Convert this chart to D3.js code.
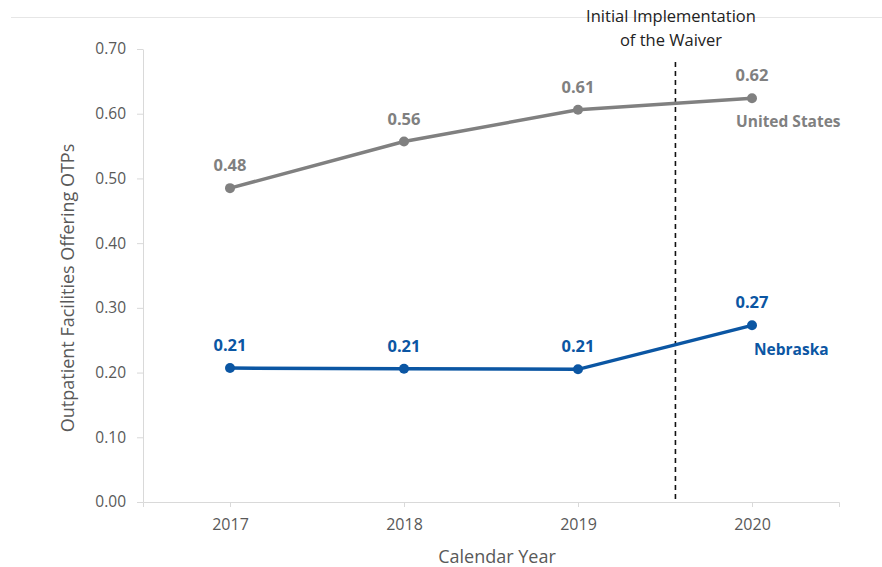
<!DOCTYPE html>
<html>
<head>
<meta charset="utf-8">
<script src="https://cdn.jsdelivr.net/npm/d3@7"></script>
<style>
  body { margin: 0; background: #fff; }
  svg text { font-family: "Open Sans", "Liberation Sans", sans-serif; }
</style>
</head>
<body>
<div class="chartContainer"></div>
<script>
const years = [2017, 2018, 2019, 2020];
const usValues = [0.485, 0.557, 0.606, 0.624];
const neValues = [0.207, 0.206, 0.205, 0.273];
const usLabels = ["0.48", "0.56", "0.61", "0.62"];
const neLabels = ["0.21", "0.21", "0.21", "0.27"];
const yTicks = [0, 0.1, 0.2, 0.3, 0.4, 0.5, 0.6, 0.7];
const waiverYear = 2019.56;

const w = 882;
const h = 567;

const svg = d3
  .select(".chartContainer")
  .append("svg")
  .attr("width", w)
  .attr("height", h);

const xScale = d3.scaleLinear().domain([2016.5, 2020.5]).range([143, 839]);
const yScale = d3.scaleLinear().domain([0, 0.7]).range([502, 49]);

// faint rule at the top of the page
svg
  .append("line")
  .attr("x1", 11)
  .attr("x2", w)
  .attr("y1", 17.5)
  .attr("y2", 17.5)
  .attr("stroke", "#e6e6e6")
  .attr("stroke-width", 1);

// y axis
const yAxis = svg
  .append("g")
  .attr("transform", "translate(143,0)")
  .call(
    d3.axisLeft(yScale)
      .tickValues(yTicks)
      .tickFormat(d3.format(".2f"))
      .tickSize(6)
      .tickSizeOuter(0)
      .tickPadding(11)
  );
yAxis.select(".domain").attr("stroke", "#d9d9d9");
yAxis.selectAll(".tick line").attr("stroke", "#d9d9d9");
yAxis
  .selectAll(".tick text")
  .attr("fill", "#595959")
  .style("font-size", "15.5px");

// x axis
const xAxis = svg
  .append("g")
  .attr("transform", "translate(0,502)")
  .call(
    d3.axisBottom(xScale)
      .tickValues(years)
      .tickFormat(d3.format("d"))
      .tickSize(5)
      .tickSizeOuter(5)
      .tickPadding(12)
  );
xAxis.select(".domain").attr("stroke", "#d9d9d9");
xAxis.selectAll(".tick line").attr("stroke", "#d9d9d9");
xAxis
  .selectAll(".tick text")
  .attr("fill", "#595959")
  .style("font-size", "16px");
svg
  .append("line")
  .attr("x1", 137)
  .attr("x2", 143)
  .attr("y1", 502.5)
  .attr("y2", 502.5)
  .attr("stroke", "#d9d9d9");

// axis titles
svg
  .append("text")
  .attr("x", 497)
  .attr("y", 563)
  .attr("text-anchor", "middle")
  .attr("fill", "#595959")
  .style("font-size", "18px")
  .text("Calendar Year");

svg
  .append("text")
  .attr("transform", "translate(74,288) rotate(-90)")
  .attr("text-anchor", "middle")
  .attr("fill", "#595959")
  .style("font-size", "18px")
  .text("Outpatient Facilities Offering OTPs");

// waiver marker
svg
  .append("line")
  .attr("x1", xScale(waiverYear))
  .attr("x2", xScale(waiverYear))
  .attr("y1", 62)
  .attr("y2", 502)
  .attr("stroke", "#111")
  .attr("stroke-width", 1.6)
  .attr("stroke-dasharray", "5,4");

svg
  .append("text")
  .attr("x", 671)
  .attr("y", 22)
  .attr("text-anchor", "middle")
  .attr("fill", "#222")
  .style("font-size", "16.5px")
  .text("Initial Implementation");
svg
  .append("text")
  .attr("x", 671)
  .attr("y", 46)
  .attr("text-anchor", "middle")
  .attr("fill", "#222")
  .style("font-size", "16.5px")
  .text("of the Waiver");

const line = d3
  .line()
  .x((d, i) => xScale(years[i]))
  .y((d) => yScale(d));

function drawSeries(values, labels, color, name, nameX, nameY) {
  svg
    .append("path")
    .datum(values)
    .attr("d", line)
    .attr("fill", "none")
    .attr("stroke", color)
    .attr("stroke-width", 3.5);

  svg
    .selectAll(null)
    .data(values)
    .enter()
    .append("circle")
    .attr("cx", (d, i) => xScale(years[i]))
    .attr("cy", (d) => yScale(d))
    .attr("r", 5)
    .attr("fill", color);

  svg
    .selectAll(null)
    .data(values)
    .enter()
    .append("text")
    .attr("x", (d, i) => xScale(years[i]))
    .attr("y", (d) => yScale(d) - 17)
    .attr("text-anchor", "middle")
    .attr("fill", color)
    .style("font-size", "16.5px")
    .style("font-weight", "bold")
    .text((d, i) => labels[i]);

  svg
    .append("text")
    .attr("x", nameX)
    .attr("y", nameY)
    .attr("fill", color)
    .style("font-size", "15.5px")
    .style("font-weight", "bold")
    .text(name);
}

drawSeries(usValues, usLabels, "#808080", "United States", 736, 127);
drawSeries(neValues, neLabels, "#0b56a3", "Nebraska", 754, 355);
</script>
</body>
</html>
